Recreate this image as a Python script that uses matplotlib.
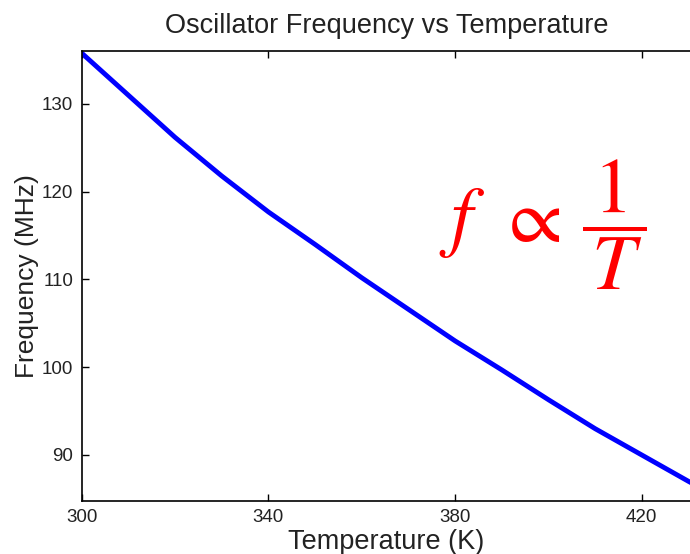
import matplotlib
matplotlib.use("Agg")
import matplotlib.pyplot as plt

# data
temp_k = [300, 310, 320, 330, 340, 350, 360, 370, 380, 390, 400, 410, 420, 430, 437]
freq_mhz = [135.8, 131.0, 126.2, 121.8, 117.7, 114.0, 110.2, 106.6, 103.0, 99.7,
            96.3, 93.0, 90.0, 87.0, 85.0]
xticks = [300, 340, 380, 420]
yticks = [90, 100, 110, 120, 130]

plt.rcParams['font.family'] = ['Liberation Sans', 'DejaVu Sans']
plt.rcParams['mathtext.fontset'] = 'stix'

fig = plt.figure(figsize=(6.9, 5.54), dpi=100)
# right edge of the axes sits just at the picture's edge (cropped original)
ax = fig.add_axes([81.7 / 690, 1 - 501 / 554, (691 - 81.7) / 690, 450 / 554])

ax.plot(temp_k, freq_mhz, color='#0000ff', lw=3.5, solid_capstyle='round')

ax.set_xlim(300, 300 + (691 - 81.7) / 186.7 * 40)
ax.set_ylim(90 - 46 / 8.775, 130 + 53 / 8.775)
ax.set_xticks(xticks)
ax.set_yticks(yticks)
ax.tick_params(direction='in', length=5, width=1, labelsize=13.5, top=True, right=False,
               pad=6, colors='black', labelcolor='#222222')
for s in ax.spines.values():
    s.set_linewidth(1.2)
ax.spines['right'].set_visible(False)

ax.set_title('Oscillator Frequency vs Temperature', fontsize=19.5, pad=13, color='#222222')
ax.set_xlabel('Temperature (K)', fontsize=19.5, labelpad=2, color='#222222')
ax.set_ylabel('Frequency (MHz)', fontsize=19, labelpad=2, color='#222222')

fig.text(0.786, 0.594, r'$f\;\,\propto\,\dfrac{\,1\,}{\,T\,}$', color='red', fontsize=56,
         ha='center', va='center')

fig.savefig('out.png', dpi=100)
